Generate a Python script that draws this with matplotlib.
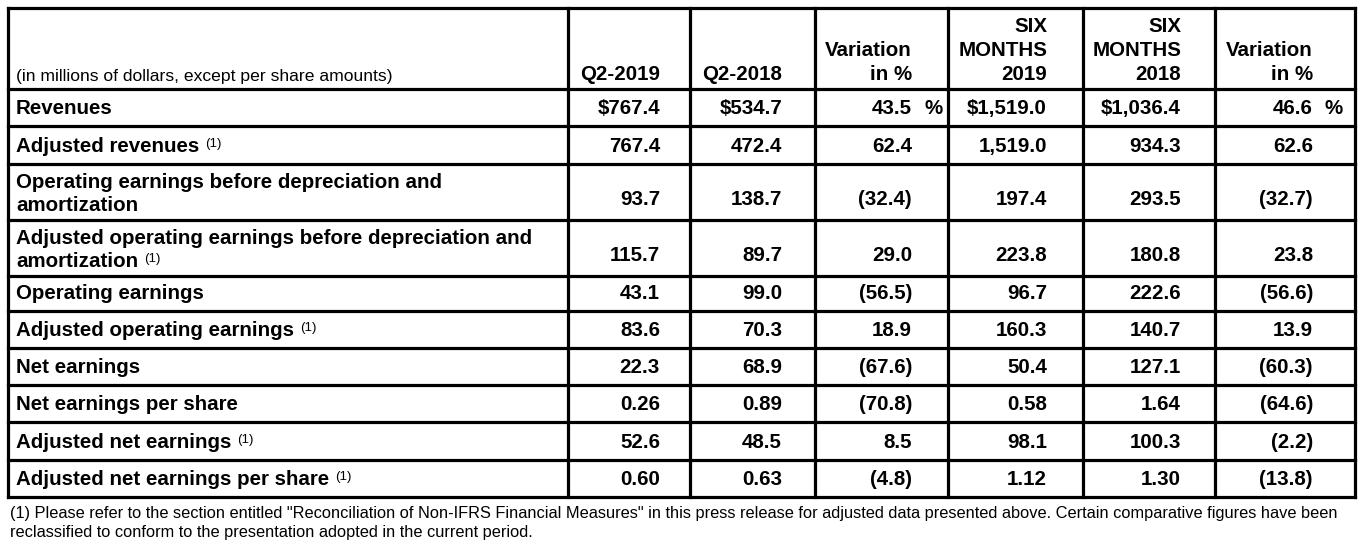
import matplotlib
matplotlib.use('Agg')
import matplotlib.pyplot as plt
from matplotlib import font_manager

# table content
row_labels = ['Revenues', 'Adjusted revenues',
              'Operating earnings before depreciation and\namortization',
              'Adjusted operating earnings before depreciation and\namortization',
              'Operating earnings', 'Adjusted operating earnings', 'Net earnings',
              'Net earnings per share', 'Adjusted net earnings',
              'Adjusted net earnings per share']
row_note = [False, True, False, True, False, True, False, False, True, True]
col_headers = ['Q2-2019', 'Q2-2018', 'Variation\nin %', 'SIX\nMONTHS\n2019',
               'SIX\nMONTHS\n2018', 'Variation\nin %']
q2_2019 = ['$767.4', '767.4', '93.7', '115.7', '43.1', '83.6', '22.3', '0.26', '52.6', '0.60']
q2_2018 = ['$534.7', '472.4', '138.7', '89.7', '99.0', '70.3', '68.9', '0.89', '48.5', '0.63']
var_q2 = ['43.5', '62.4', '(32.4)', '29.0', '(56.5)', '18.9', '(67.6)', '(70.8)', '8.5', '(4.8)']
six_2019 = ['$1,519.0', '1,519.0', '197.4', '223.8', '96.7', '160.3', '50.4', '0.58', '98.1', '1.12']
six_2018 = ['$1,036.4', '934.3', '293.5', '180.8', '222.6', '140.7', '127.1', '1.64', '100.3', '1.30']
var_six = ['46.6', '62.6', '(32.7)', '23.8', '(56.6)', '13.9', '(60.3)', '(64.6)', '(2.2)', '(13.8)']
unit_label = '(in millions of dollars, except per share amounts)'
footnote = ['(1) Please refer to the section entitled "Reconciliation of Non-IFRS Financial Measures" '
            'in this press release for adjusted data presented above. Certain comparative figures have been',
            'reclassified to conform to the presentation adopted in the current period.']

names = {f.name for f in font_manager.fontManager.ttflist}
fam = ['Liberation Sans Narrow'] if 'Liberation Sans Narrow' in names else []
fam += ['Liberation Sans', 'DejaVu Sans']
plt.rcParams['font.family'] = fam

W, H = 1363, 547
fig = plt.figure(figsize=(W / 100, H / 100), dpi=100)
ax = fig.add_axes([0, 0, 1, 1])
ax.set_xlim(0, W)
ax.set_ylim(H, 0)
ax.axis('off')

col_edges = [8, 568, 690, 815, 948, 1083, 1215, 1355]
row_edges = [8, 89, 126, 164, 220, 276, 311, 348, 385, 422, 460, 497]
text_right = [660, 782, 912, 1047, 1181, 1313]
lw = 2.3

for x in col_edges:
    ax.plot([x, x], [row_edges[0], row_edges[-1]], color='black', lw=lw, solid_capstyle='projecting')
for y in row_edges:
    ax.plot([col_edges[0], col_edges[-1]], [y, y], color='black', lw=lw, solid_capstyle='projecting')

fs = 14.8
# header
ax.text(16, 81, unit_label, fontsize=12.6, ha='left', va='baseline')
for j, h in enumerate(col_headers):
    ax.text(text_right[j], 80, h, fontsize=fs, fontweight='bold', ha='right',
            va='baseline', linespacing=1.33, multialignment='right')

columns = [q2_2019, q2_2018, var_q2, six_2019, six_2018, var_six]
for i, lab in enumerate(row_labels):
    top, bot = row_edges[i + 1], row_edges[i + 2]
    lines = lab.split('\n')
    two = len(lines) > 1
    base = bot - (9 if two else 12)
    for k, ln in enumerate(lines):
        yb = base - 23 * (len(lines) - 1 - k)
        t = ax.text(16, yb, ln, fontsize=fs, fontweight='bold', ha='left', va='baseline')
    if row_note[i]:
        fig.canvas.draw()
        bb = t.get_window_extent()
        ax.text(bb.x1 + 6, base - 5, '(1)', fontsize=9.5, ha='left', va='baseline')
    vbase = bot - (15 if two else 12)
    for j, col in enumerate(columns):
        ax.text(text_right[j], vbase, col[i], fontsize=fs, fontweight='bold', ha='right', va='baseline')
    if i == 0:
        ax.text(943, vbase, '%', fontsize=fs, fontweight='bold', ha='right', va='baseline')
        ax.text(1343, vbase, '%', fontsize=fs, fontweight='bold', ha='right', va='baseline')

ax.text(10, 518, footnote[0], fontsize=11.75, ha='left', va='baseline')
ax.text(10, 537, footnote[1], fontsize=11.75, ha='left', va='baseline')

fig.savefig('out.png', dpi=100)
